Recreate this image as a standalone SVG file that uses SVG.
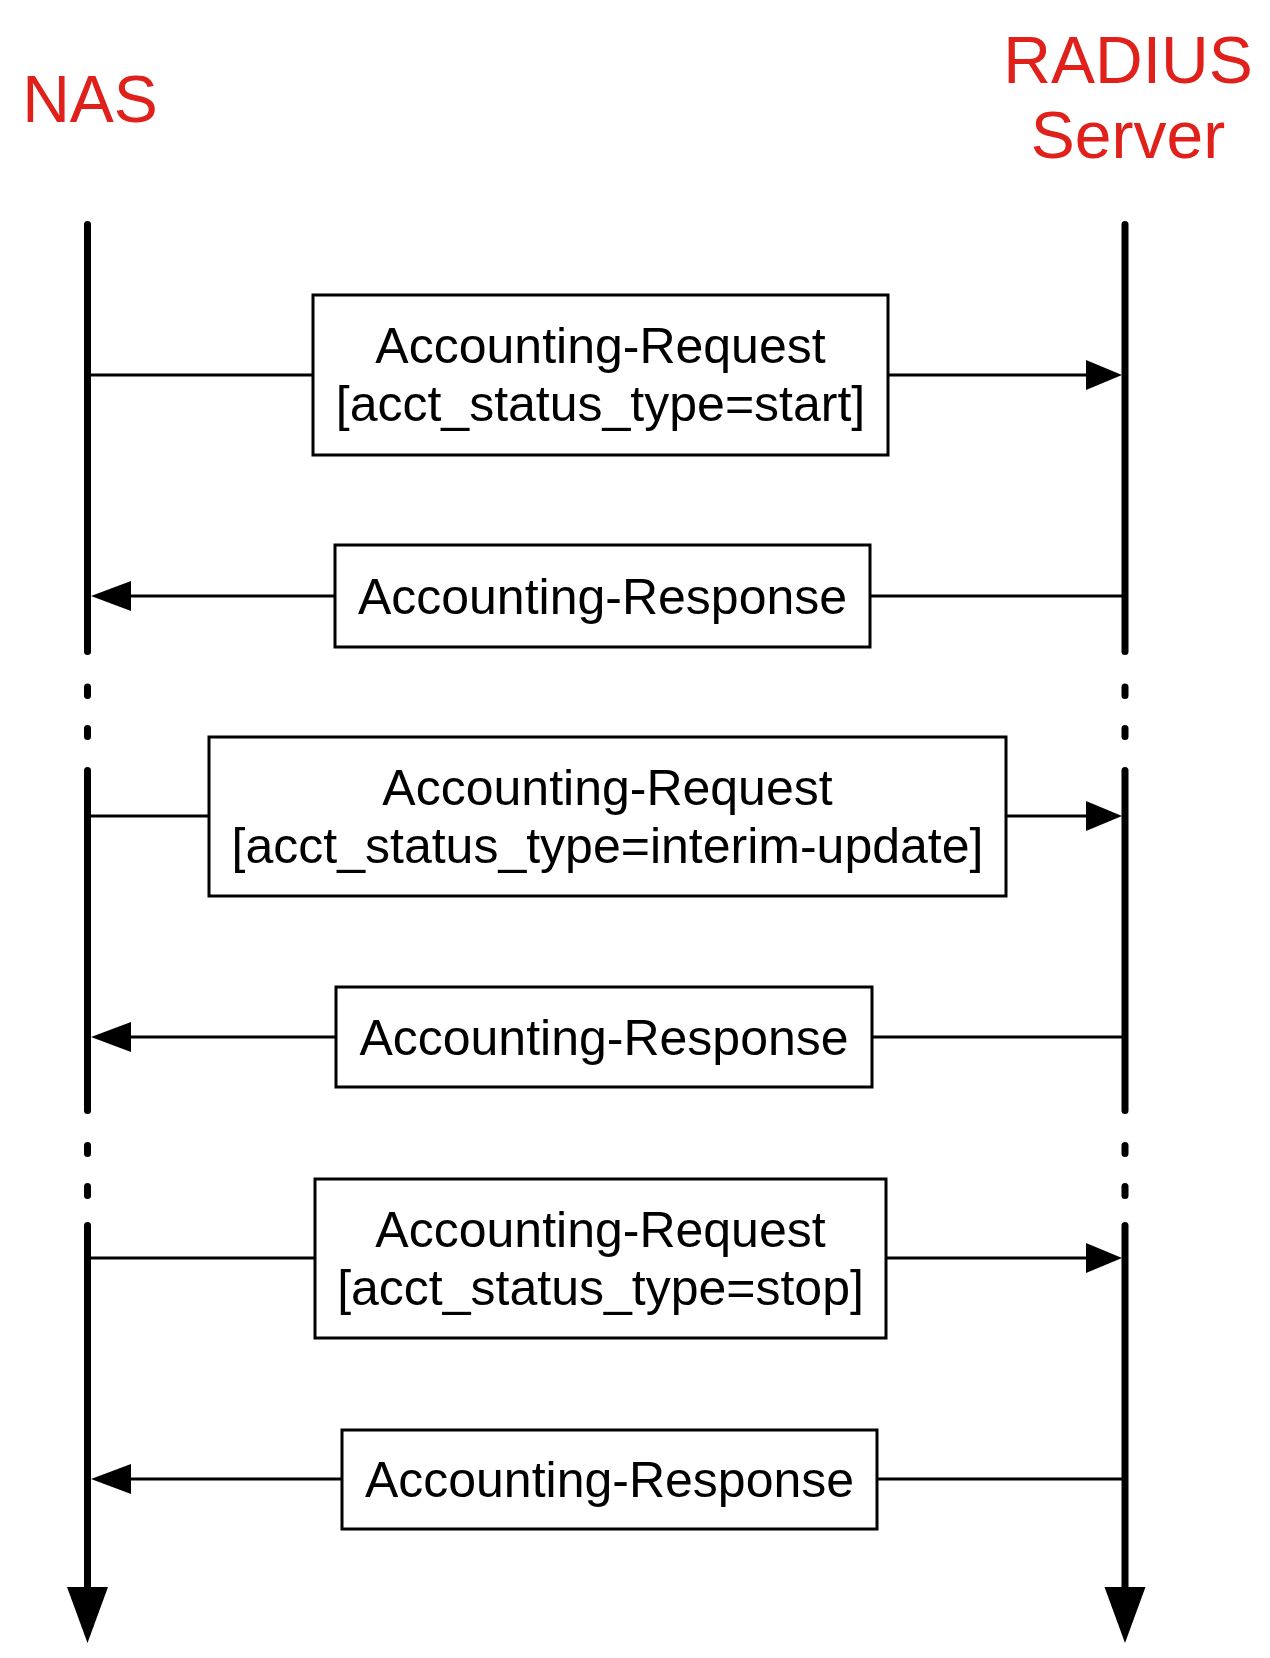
<svg xmlns="http://www.w3.org/2000/svg" width="1270" height="1658" viewBox="0 0 1270 1658">
<style>
.title{font-family:"Liberation Sans",Arial,sans-serif;font-size:66px;fill:#e0201a;text-anchor:middle}
.lbl{font-family:"Liberation Sans",Arial,sans-serif;font-size:50px;fill:#000;text-anchor:middle}
.box{fill:#fff;stroke:#000;stroke-width:3}
.life{stroke:#000;stroke-width:7;stroke-linecap:round;fill:none}
.msg{stroke:#000;stroke-width:3;fill:none}
.head{fill:#000}
</style>
<rect width="1270" height="1658" fill="#fff"/>
<g id="nas">
<text class="title" x="90" y="122">NAS</text>
<line class="life" x1="87.5" y1="224.5" x2="87.5" y2="651.5"/>
<line class="life" x1="87.5" y1="687" x2="87.5" y2="695.5"/>
<line class="life" x1="87.5" y1="728.5" x2="87.5" y2="736.5"/>
<line class="life" x1="87.5" y1="770.5" x2="87.5" y2="1110.5"/>
<line class="life" x1="87.5" y1="1145.5" x2="87.5" y2="1153.5"/>
<line class="life" x1="87.5" y1="1186.5" x2="87.5" y2="1195.5"/>
<line class="life" x1="87.5" y1="1225.5" x2="87.5" y2="1595" stroke-linecap="butt"/>
<polygon class="head" points="67,1587 108,1587 87.5,1643"/>
</g>
<g id="radius">
<text class="title" x="1128" y="83">RADIUS</text>
<text class="title" x="1128" y="158">Server</text>
<line class="life" x1="1125" y1="224.5" x2="1125" y2="651.5"/>
<line class="life" x1="1125" y1="687" x2="1125" y2="695.5"/>
<line class="life" x1="1125" y1="728.5" x2="1125" y2="736.5"/>
<line class="life" x1="1125" y1="770.5" x2="1125" y2="1110.5"/>
<line class="life" x1="1125" y1="1145.5" x2="1125" y2="1153.5"/>
<line class="life" x1="1125" y1="1186.5" x2="1125" y2="1195.5"/>
<line class="life" x1="1125" y1="1225.5" x2="1125" y2="1595" stroke-linecap="butt"/>
<polygon class="head" points="1104.5,1587 1145.5,1587 1125,1643"/>
</g>
<g id="connectors">
<line class="msg" x1="91" y1="375" x2="1090" y2="375"/>
<polygon class="head" points="1086,360 1122,375 1086,390"/>
<line class="msg" x1="128" y1="596" x2="1122" y2="596"/>
<polygon class="head" points="131,581 91,596 131,611"/>
<line class="msg" x1="91" y1="816" x2="1090" y2="816"/>
<polygon class="head" points="1086,801 1122,816 1086,831"/>
<line class="msg" x1="128" y1="1037" x2="1122" y2="1037"/>
<polygon class="head" points="131,1022 91,1037 131,1052"/>
<line class="msg" x1="91" y1="1258" x2="1090" y2="1258"/>
<polygon class="head" points="1086,1243 1122,1258 1086,1273"/>
<line class="msg" x1="128" y1="1479" x2="1122" y2="1479"/>
<polygon class="head" points="131,1464 91,1479 131,1494"/>
</g>
<g id="req1">
<rect class="box" x="313" y="295" width="575" height="160"/>
<text class="lbl" x="600.5" y="363">Accounting-Request</text>
<text class="lbl" x="600.5" y="421">[acct_status_type=start]</text>
</g>
<g id="resp1">
<rect class="box" x="335" y="545" width="535" height="102"/>
<text class="lbl" x="602.5" y="614">Accounting-Response</text>
</g>
<g id="req2">
<rect class="box" x="209" y="737" width="797" height="159"/>
<text class="lbl" x="607.5" y="805">Accounting-Request</text>
<text class="lbl" x="607.5" y="863">[acct_status_type=interim-update]</text>
</g>
<g id="resp2">
<rect class="box" x="336" y="987" width="536" height="100"/>
<text class="lbl" x="604" y="1055">Accounting-Response</text>
</g>
<g id="req3">
<rect class="box" x="315" y="1179" width="571" height="159"/>
<text class="lbl" x="600.5" y="1247">Accounting-Request</text>
<text class="lbl" x="600.5" y="1305">[acct_status_type=stop]</text>
</g>
<g id="resp3">
<rect class="box" x="342" y="1430" width="535" height="99"/>
<text class="lbl" x="609.5" y="1497">Accounting-Response</text>
</g>
</svg>
